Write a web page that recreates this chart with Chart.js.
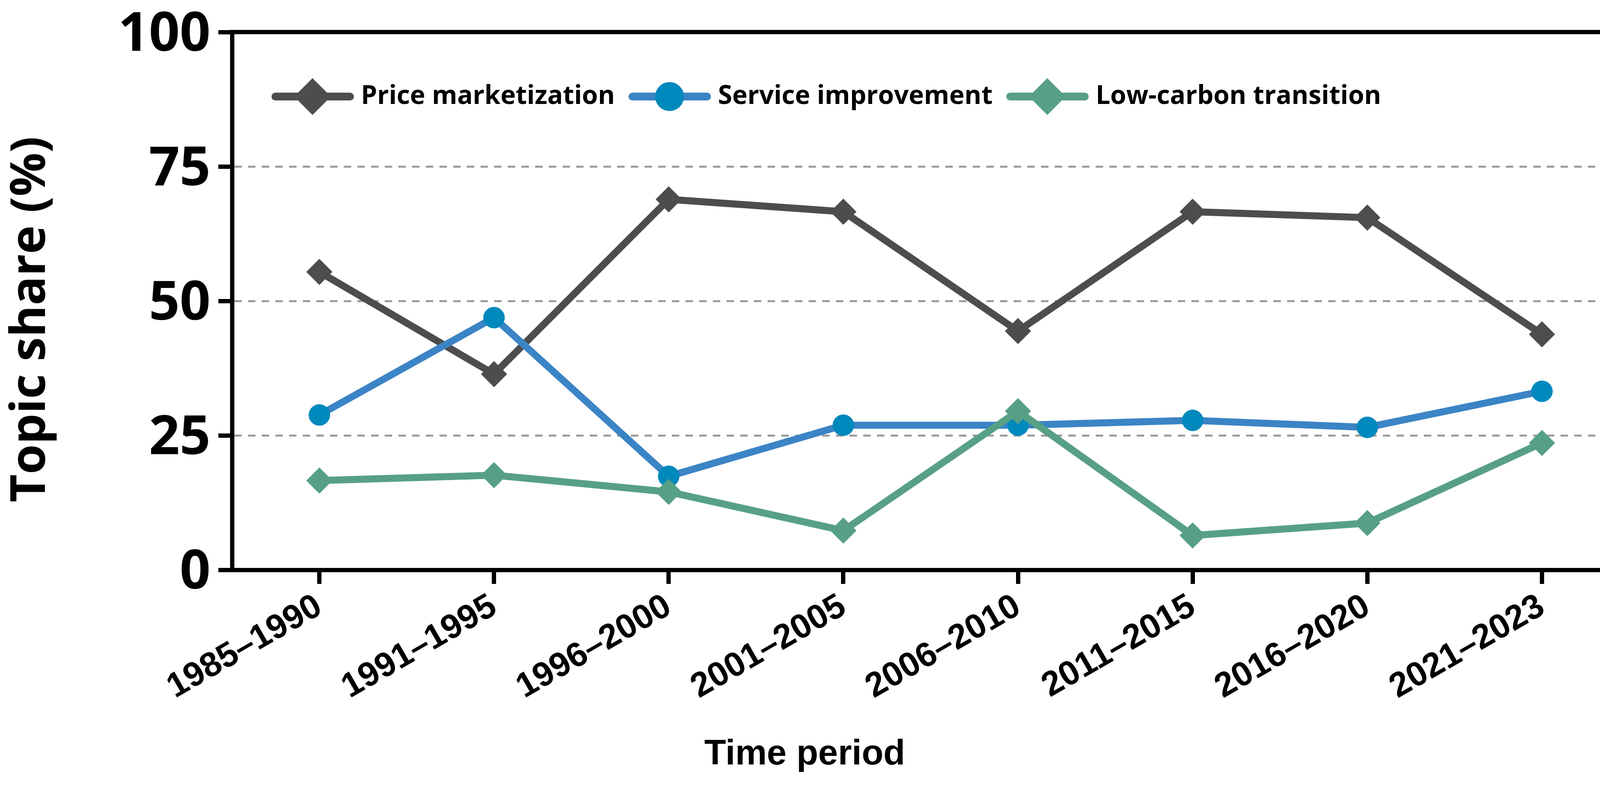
<!DOCTYPE html>
<html>
<head>
<meta charset="utf-8">
<script src="https://cdn.jsdelivr.net/npm/chart.js@4.4.1/dist/chart.umd.min.js"></script>
<style>
  html, body { margin: 0; padding: 0; background: #fff; overflow: hidden; }
  canvas { display: block; }
</style>
</head>
<body>
<canvas id="chart" width="4205" height="2011"></canvas>
<script>
// Data
const periods = ['1985–1990', '1991–1995', '1996–2000', '2001–2005', '2006–2010', '2011–2015', '2016–2020', '2021–2023'];
const priceShare = [55.4, 36.4, 68.9, 66.6, 44.4, 66.6, 65.5, 43.8];
const serviceShare = [28.8, 46.9, 17.4, 26.9, 26.9, 27.8, 26.5, 33.2];
const carbonShare = [16.6, 17.6, 14.5, 7.3, 29.5, 6.4, 8.7, 23.6];
const seriesNames = ['Price marketization', 'Service improvement', 'Low-carbon transition'];
const yTicks = [0, 25, 50, 75, 100];
const xTitle = 'Time period';
const yTitle = 'Topic share (%)';

const GRAY = '#4d4d4d';
const BLUE_LINE = '#3b84c5';
const BLUE_DOT = '#0089bc';
const GREEN = '#57a085';

// box around the plot (top and right sides)
const framePlugin = {
    id: 'frame',
    beforeDatasetsDraw(chart) {
        const { ctx, chartArea: a } = chart;
        ctx.save();
        ctx.strokeStyle = '#000';
        ctx.lineWidth = 11;
        ctx.beginPath();
        ctx.moveTo(a.left - 5.5, a.top);
        ctx.lineTo(a.right, a.top);
        ctx.lineTo(a.right, a.bottom + 5.5);
        ctx.stroke();
        ctx.restore();
    }
};

// legend sits inside the plot, in one row
const innerLegend = {
    id: 'innerLegend',
    afterDatasetsDraw(chart) {
        const ctx = chart.ctx;
        const y = chart.chartArea.top + 165;
        let x = chart.chartArea.left + 101;
        ctx.save();
        ctx.font = 'bold 66px "Open Sans"';
        ctx.textBaseline = 'middle';
        ctx.textAlign = 'left';
        chart.data.datasets.forEach(ds => {
            ctx.strokeStyle = ds.borderColor;
            ctx.lineWidth = 20;
            ctx.lineCap = 'round';
            ctx.beginPath();
            ctx.moveTo(x + 10, y);
            ctx.lineTo(x + 201, y);
            ctx.stroke();
            ctx.fillStyle = ds.pointBackgroundColor;
            ctx.strokeStyle = ds.pointBackgroundColor;
            Chart.helpers.drawPoint(ctx, { pointStyle: ds.pointStyle, radius: ds.pointRadius, borderWidth: 1, rotation: 0 }, x + 105, y);
            ctx.fillStyle = '#000';
            ctx.fillText(ds.label, x + 229, y);
            x += 229 + ctx.measureText(ds.label).width + 35;
        });
        ctx.restore();
    }
};

// axis titles, placed where the figure has them
const axisTitles = {
    id: 'axisTitles',
    afterDraw(chart) {
        const { ctx, chartArea: a } = chart;
        ctx.save();
        ctx.fillStyle = '#000';
        ctx.textAlign = 'center';
        ctx.font = 'bold 91px "Liberation Sans", Arial, sans-serif';
        ctx.textBaseline = 'alphabetic';
        ctx.fillText(xTitle, a.left + 1466, 1956);
        ctx.translate(80, a.top + 735);
        ctx.rotate(-Math.PI / 2);
        ctx.font = 'bold 124px "Open Sans", sans-serif';
        ctx.textBaseline = 'middle';
        ctx.fillText(yTitle, 0, 0);
        ctx.restore();
    }
};

const ctx = document.getElementById('chart').getContext('2d');
new Chart(ctx, {
    type: 'line',
    data: {
        labels: periods,
        datasets: [
            {
                label: seriesNames[0],
                data: priceShare,
                borderColor: GRAY,
                borderWidth: 18,
                pointStyle: 'rectRot',
                pointRadius: 33,
                pointBackgroundColor: GRAY,
                pointBorderColor: GRAY,
                pointBorderWidth: 1,
                order: 3
            },
            {
                label: seriesNames[1],
                data: serviceShare,
                borderColor: BLUE_LINE,
                borderWidth: 18,
                pointStyle: 'circle',
                pointRadius: 27,
                pointBackgroundColor: BLUE_DOT,
                pointBorderColor: BLUE_DOT,
                pointBorderWidth: 1,
                order: 2
            },
            {
                label: seriesNames[2],
                data: carbonShare,
                borderColor: GREEN,
                borderWidth: 18,
                pointStyle: 'rectRot',
                pointRadius: 33,
                pointBackgroundColor: GREEN,
                pointBorderColor: GREEN,
                pointBorderWidth: 1,
                order: 1
            }
        ]
    },
    options: {
        responsive: false,
        devicePixelRatio: 1,
        animation: false,
        layout: { padding: { top: 65, right: 24, bottom: 32, left: 0 } },
        plugins: {
            legend: { display: false },
            tooltip: { enabled: false }
        },
        scales: {
            x: {
                type: 'category',
                offset: true,
                grid: {
                    display: true,
                    drawOnChartArea: false,
                    drawTicks: true,
                    tickLength: 36,
                    tickWidth: 11,
                    tickColor: '#000'
                },
                border: { display: true, color: '#000', width: 11 },
                ticks: {
                    color: '#000',
                    autoSkip: false,
                    minRotation: 30,
                    maxRotation: 30,
                    padding: 6,
                    font: { family: '"Liberation Sans", Arial, sans-serif', size: 88, weight: 'bold' }
                },
                afterFit(scale) { scale.height = 521; }
            },
            y: {
                min: 0,
                max: 100,
                afterBuildTicks(scale) { scale.ticks = yTicks.map(v => ({ value: v })); },
                grid: {
                    color: c => (c.tick && (c.tick.value === 0 || c.tick.value === 100)) ? 'rgba(0,0,0,0)' : '#9a9a9a',
                    lineWidth: 5,
                    drawTicks: true,
                    tickLength: 35,
                    tickWidth: 11,
                    tickColor: '#000'
                },
                border: { display: true, color: '#000', width: 11, dash: [19, 16] },
                ticks: {
                    color: '#000',
                    padding: 20,
                    labelOffset: 9,
                    font: { family: '"Open Sans", sans-serif', size: 138, weight: 'bold', lineHeight: 0.9 }
                },
                afterFit(scale) { scale.width = 594; }
            }
        }
    },
    plugins: [framePlugin, innerLegend, axisTitles]
});
</script>
</body>
</html>
